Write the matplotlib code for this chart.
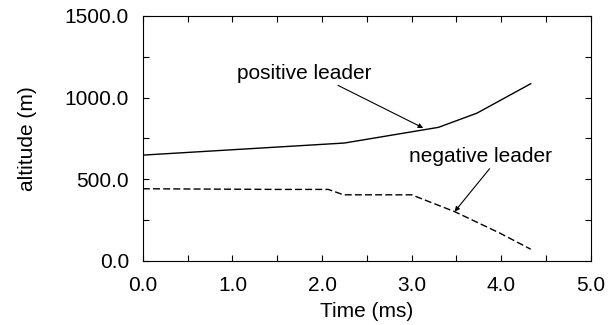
import numpy as np
import matplotlib.pyplot as plt
from matplotlib.ticker import MultipleLocator, FormatStrFormatter

plt.rcParams['font.family'] = ['Liberation Sans', 'DejaVu Sans']

# positive leader (solid)
t_pos = [0.0, 2.25, 3.3, 3.73, 4.33]
alt_pos = [648, 722, 818, 905, 1085]

# negative leader (dashed)
t_neg = [0.0, 1.5, 2.07, 2.24, 3.0, 3.48, 3.98, 4.33]
alt_neg = [442, 438, 438, 405, 405, 302, 172, 72]

fig = plt.figure(figsize=(6.16, 3.25), dpi=100)
ax = fig.add_axes([0.232, 0.197, 0.727, 0.754])

ax.plot(t_pos, alt_pos, color='black', lw=1.0)
ax.plot(t_neg, alt_neg, color='black', lw=1.0, dashes=(5, 2.3))

ax.annotate('positive leader', xy=(3.13, 814), xytext=(1.05, 1150),
            fontsize=15, va='center', ha='left',
            arrowprops=dict(arrowstyle='-|>', color='black', lw=0.8,
                            mutation_scale=7, shrinkA=0, shrinkB=0,
                            relpos=(0.71, 0.0)))
ax.annotate('negative leader', xy=(3.48, 302), xytext=(2.97, 640),
            fontsize=15, va='center', ha='left',
            arrowprops=dict(arrowstyle='-|>', color='black', lw=0.8,
                            mutation_scale=7, shrinkA=0, shrinkB=0,
                            relpos=(0.58, 0.0)))

ax.set_xlim(0, 5)
ax.set_ylim(0, 1500)
ax.xaxis.set_major_locator(MultipleLocator(1))
ax.xaxis.set_minor_locator(MultipleLocator(0.5))
ax.yaxis.set_major_locator(MultipleLocator(500))
ax.yaxis.set_minor_locator(MultipleLocator(250))
ax.xaxis.set_major_formatter(FormatStrFormatter('%.1f'))
ax.yaxis.set_major_formatter(FormatStrFormatter('%.1f'))
ax.tick_params(which='both', direction='in', top=True, right=True,
               labelsize=15, length=4, width=0.8)
ax.tick_params(axis='y', pad=10)
ax.tick_params(axis='x', pad=11)

ax.set_xlabel('Time (ms)', fontsize=15, labelpad=5)
ax.set_ylabel('altitude (m)', fontsize=15, labelpad=20)

fig.savefig('out.png', dpi=100)
